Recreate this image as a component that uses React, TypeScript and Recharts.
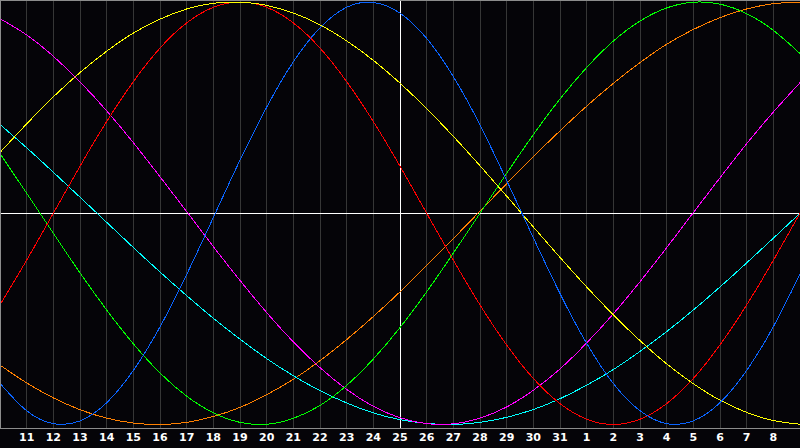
import { LineChart, Line, XAxis, YAxis, CartesianGrid, ReferenceLine } from "recharts";

const days = [
  "10", "11", "12", "13", "14", "15", "16", "17", "18", "19", "20",
  "21", "22", "23", "24", "25", "26", "27", "28", "29", "30", "31",
  "1", "2", "3", "4", "5", "6", "7", "8", "9",
];

const blue = [
  -0.805, -0.935, -0.996, -0.983, -0.897, -0.744, -0.538, -0.29, -0.02, 0.251, 0.502,
  0.717, 0.878, 0.975, 0.998, 0.947, 0.828, 0.647, 0.418, 0.155, -0.116,
  -0.38, -0.616, -0.806, -0.935, -0.996, -0.983, -0.897, -0.744, -0.537, -0.289,
];
const red = [
  -0.434, -0.222, 0.0, 0.223, 0.434, 0.623, 0.782, 0.901, 0.975, 1.0, 0.975,
  0.901, 0.782, 0.623, 0.434, 0.223, 0.0, -0.222, -0.434, -0.624, -0.782,
  -0.901, -0.975, -1.0, -0.975, -0.901, -0.782, -0.623, -0.434, -0.223, 0.0,
];
const green = [
  0.282, 0.095, -0.095, -0.282, -0.458, -0.618, -0.756, -0.866, -0.945, -0.99, -0.999,
  -0.971, -0.91, -0.815, -0.69, -0.541, -0.372, -0.189, 0.0, 0.189, 0.372,
  0.541, 0.69, 0.815, 0.91, 0.972, 0.999, 0.99, 0.945, 0.866, 0.756,
];
const yellow = [
  0.288, 0.423, 0.551, 0.666, 0.767, 0.853, 0.919, 0.967, 0.994, 0.999, 0.984,
  0.948, 0.892, 0.816, 0.724, 0.616, 0.495, 0.364, 0.225, 0.081, -0.065,
  -0.209, -0.349, -0.481, -0.603, -0.713, -0.807, -0.885, -0.943, -0.981, -0.999,
];
const magenta = [
  0.921, 0.844, 0.743, 0.622, 0.485, 0.334, 0.173, 0.008, -0.158, -0.318, -0.47,
  -0.609, -0.731, -0.834, -0.914, -0.968, -0.996, -0.997, -0.97, -0.917, -0.838,
  -0.737, -0.614, -0.476, -0.324, -0.163, 0.003, 0.168, 0.329, 0.479, 0.618,
];
const cyan = [
  0.42, 0.31, 0.194, 0.076, -0.043, -0.162, -0.278, -0.39, -0.497, -0.596, -0.688,
  -0.769, -0.84, -0.898, -0.945, -0.977, -0.995, -1.0, -0.99, -0.966, -0.929,
  -0.878, -0.814, -0.74, -0.654, -0.56, -0.458, -0.349, -0.235, -0.118, 0.0,
];
const orange = [
  -0.719, -0.803, -0.874, -0.93, -0.97, -0.993, -1.0, -0.99, -0.962, -0.919, -0.859,
  -0.786, -0.698, -0.598, -0.489, -0.372, -0.248, -0.12, 0.01, 0.14, 0.268,
  0.39, 0.507, 0.615, 0.713, 0.8, 0.87, 0.926, 0.967, 0.992, 1.0,
];

const tickIdx = days.map((_, i) => i).slice(1, 30);

const data = days.map((d, i) => ({
  i,
  day: d,
  blue: blue[i],
  red: red[i],
  green: green[i],
  yellow: yellow[i],
  magenta: magenta[i],
  cyan: cyan[i],
  orange: orange[i],
}));

const series = [
  { key: "orange", color: "#ff8000" },
  { key: "cyan", color: "#00ffff" },
  { key: "magenta", color: "#ff00ff" },
  { key: "green", color: "#00ff00" },
  { key: "red", color: "#ff0000" },
  { key: "yellow", color: "#ffff00" },
  { key: "blue", color: "#0a64ff" },
];

export default function App() {
  return (
    <div style={{ position: "fixed", left: 0, top: 0, width: 800, height: 448, background: "#050408" }}>
      <LineChart width={800} height={448} data={data} margin={{ top: 0, right: 0, left: 0, bottom: 0 }}>
        <CartesianGrid horizontal={false} stroke="#363636" shapeRendering="crispEdges" />
        <XAxis
          dataKey="i"
          type="number"
          domain={[0, 30]}
          ticks={tickIdx}
          interval={0}
          height={20}
          axisLine={{ stroke: "#8c8c8c", shapeRendering: "crispEdges" }}
          tickLine={false}
          tickSize={5}
          tickMargin={0}
          tickFormatter={(v: number) => days[v]}
          tick={{ fill: "#ffffff", fontSize: 11, fontWeight: "bold", fontFamily: "DejaVu Sans" }}
        />
        <YAxis hide type="number" domain={[-1.0166, 1.0095]} allowDataOverflow />
        <ReferenceLine y={0} stroke="#ffffff" shapeRendering="crispEdges" />
        <ReferenceLine x={15} stroke="#ffffff" shapeRendering="crispEdges" />
        {series.map((s) => (
          <Line
            key={s.key}
            type="natural"
            dataKey={s.key}
            stroke={s.color}
            strokeWidth={1}
            shapeRendering="crispEdges"
            dot={false}
            activeDot={false}
            isAnimationActive={false}
          />
        ))}
      </LineChart>
      <div
        style={{
          position: "absolute",
          left: 0,
          top: 0,
          width: 800,
          height: 429,
          boxSizing: "border-box",
          borderTop: "1px solid #8c8c8c",
          borderLeft: "1px solid #8c8c8c",
          pointerEvents: "none",
        }}
      />
    </div>
  );
}
